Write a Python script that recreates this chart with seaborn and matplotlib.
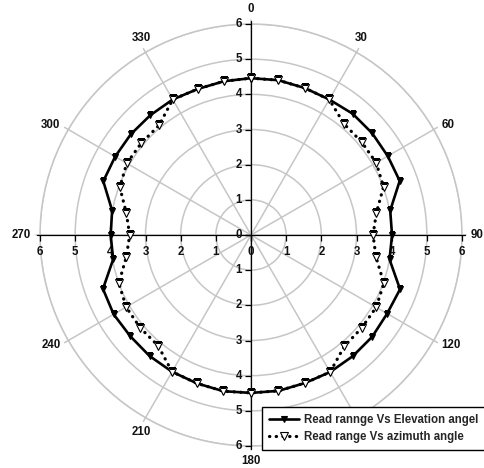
import numpy as np
import pandas as pd
import matplotlib
matplotlib.use("Agg")
import matplotlib.pyplot as plt
import seaborn as sns
from matplotlib.transforms import offset_copy

# ---- data ----
angles_deg = list(range(0, 360, 10))
elevation = [4.46, 4.47, 4.45, 4.45, 4.50, 4.50, 4.49, 4.50, 4.02, 4.01,
             4.00, 4.51, 4.47, 4.50, 4.50, 4.50, 4.48, 4.50, 4.49, 4.51,
             4.49, 4.49, 4.49, 4.48, 4.51, 4.48, 3.98, 3.99, 4.01, 4.47,
             4.46, 4.46, 4.45, 4.45, 4.42, 4.44]
azimuth = [4.46, 4.47, 4.45, 4.45, 4.12, 4.11, 4.11, 4.01, 3.62, 3.47,
           3.61, 4.02, 4.11, 4.11, 4.13, 4.50, 4.48, 4.50, 4.49, 4.51,
           4.49, 4.49, 4.11, 4.11, 4.10, 4.00, 3.60, 3.45, 3.60, 3.97,
           4.08, 4.07, 4.07, 4.45, 4.42, 4.44]
theta_ticks = list(range(0, 360, 30))
theta_labels = [str(t) for t in theta_ticks]
radial_ticks = [0, 1, 2, 3, 4, 5, 6]
series_names = ["Read rannge Vs Elevation angel", "Read range Vs azimuth angle"]

sns.set_style("white")
plt.rcParams["font.family"] = ["Liberation Sans", "DejaVu Sans"]
plt.rcParams["font.weight"] = "bold"

FS = 8.3
TXT = "#111111"
GRID = "#c6c6c6"

fig = plt.figure(figsize=(4.84, 4.68), dpi=100)
ax = fig.add_axes([0.0826, 0.047, 0.872, 0.9017], projection="polar")
ax.set_theta_zero_location("N")
ax.set_theta_direction(-1)
rmax = radial_ticks[-1]
ax.set_ylim(0, rmax)
ax.set_rticks(radial_ticks[1:])
ax.set_yticklabels([])
ax.set_thetagrids(theta_ticks, labels=[""] * len(theta_ticks))
ax.grid(True, color=GRID, lw=1.1)
ax.spines["polar"].set_color(GRID)
ax.spines["polar"].set_linewidth(1.1)

# category labels and small outward spoke ticks
for t, lab in zip(theta_ticks, theta_labels):
    th = np.deg2rad(t)
    s, c = np.sin(th), np.cos(th)
    ax.plot([th, th], [rmax, rmax * 1.02], color=GRID, lw=1.1, clip_on=False)
    if abs(c) >= abs(s) - 1e-9:
        ha, va = "center", ("bottom" if c > 0 else "top")
    else:
        ha, va = ("left" if s > 0 else "right"), "center"
    tr = offset_copy(ax.transData, fig=fig, x=9 * s, y=9 * c, units="dots")
    ax.text(th, rmax, lab, transform=tr, ha=ha, va=va, fontsize=FS,
            fontweight="bold", color=TXT, clip_on=False)

# black axis lines through the centre
for t in [0, 90, 180, 270]:
    ax.plot([np.deg2rad(t)] * 2, [0, rmax * 1.015], color="black", lw=0.9,
            zorder=3, clip_on=False)

# tick marks on the axes
rt = np.array(radial_ticks)
for t in [0, 180]:
    ax.plot(np.full(len(rt), np.deg2rad(t)), rt, ls="none", marker=0, ms=4,
            mew=0.9, color="black", zorder=3, clip_on=False)
for t in [90, 270]:
    ax.plot(np.full(len(rt), np.deg2rad(t)), rt, ls="none", marker=3, ms=4,
            mew=0.9, color="black", zorder=3, clip_on=False)

# radial labels
tr_left = offset_copy(ax.transData, fig=fig, x=-9, y=0, units="dots")
tr_down = offset_copy(ax.transData, fig=fig, x=0, y=-17, units="dots")
for r in radial_ticks:
    ax.text(0, r, str(r), transform=tr_left, ha="right", va="center",
            fontsize=FS, fontweight="bold", color=TXT)
    ax.text(np.pi / 2, r, str(r), transform=tr_down, ha="center", va="center",
            fontsize=FS, fontweight="bold", color=TXT)
for r in radial_ticks[1:]:
    ax.text(np.pi, r, str(r), transform=tr_left, ha="right", va="center",
            fontsize=FS, fontweight="bold", color=TXT)
    ax.text(3 * np.pi / 2, r, str(r), transform=tr_down, ha="center", va="center",
            fontsize=FS, fontweight="bold", color=TXT)

# data series (closed loops)
df_e = pd.DataFrame({"theta": np.deg2rad(angles_deg + [360]),
                     "r": elevation + elevation[:1]})
df_a = pd.DataFrame({"theta": np.deg2rad(angles_deg + [360]),
                     "r": azimuth + azimuth[:1]})

sns.lineplot(data=df_e, x="theta", y="r", sort=False, estimator=None, ax=ax,
             color="black", lw=1.9, marker="v", markersize=5,
             markeredgecolor="black", markerfacecolor="black", markeredgewidth=0.8,
             label=series_names[0], zorder=4)
sns.lineplot(data=df_a, x="theta", y="r", sort=False, estimator=None, ax=ax,
             color="black", lw=2.3, linestyle=(0, (0.1, 2.0)),
             dash_capstyle="round", marker="v", markersize=5.5,
             markeredgecolor="black", markerfacecolor="white", markeredgewidth=0.8,
             label=series_names[1], zorder=5)
ax.set_xlabel("")
ax.set_ylabel("")

handles, labels = ax.get_legend_handles_labels()
if ax.get_legend() is not None:
    ax.get_legend().remove()
leg = fig.legend(handles, labels, loc="lower left", bbox_to_anchor=(0.541, 0.038),
                 frameon=True, fancybox=False, framealpha=1, edgecolor="black",
                 fontsize=FS, borderpad=0.6, handlelength=2.6, handletextpad=0.5,
                 labelspacing=0.45, borderaxespad=0)
leg.set_zorder(10)
leg.get_frame().set_linewidth(1.0)
for t in leg.get_texts():
    t.set_fontweight("bold")

fig.savefig("out.png", dpi=100)
